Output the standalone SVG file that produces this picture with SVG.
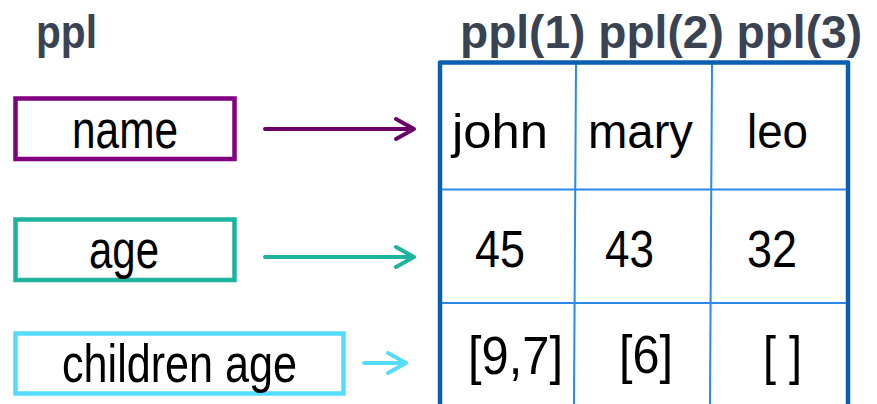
<svg xmlns="http://www.w3.org/2000/svg" width="877" height="404" viewBox="0 0 877 404">
  <style>
    .hdr { font-family: "Liberation Sans", Arial, sans-serif; font-weight: bold; fill: #3a4352; }
    .lbl { font-family: "Liberation Sans", Arial, sans-serif; fill: #000; }
    .cell { font-family: "Liberation Sans", Arial, sans-serif; fill: #000; }
    .box { fill: #fff; stroke-width: 4.5; }
    .grid { stroke: #2a8ae6; stroke-width: 2; fill: none; }
    .conn { fill: none; stroke-width: 4; stroke-linecap: round; stroke-linejoin: round; }
  </style>

  <rect width="877" height="404" fill="#fff"/>

  <!-- headings -->
  <text class="hdr" x="36" y="48" font-size="47" textLength="61" lengthAdjust="spacingAndGlyphs">ppl</text>
  <text class="hdr" x="460" y="48" font-size="47" textLength="402" lengthAdjust="spacingAndGlyphs">ppl(1) ppl(2) ppl(3)</text>

  <!-- field nodes -->
  <g id="node-name">
    <rect class="box" x="15.5" y="98.5" width="219" height="60.5" stroke="#800080"/>
    <text class="lbl" x="72" y="148" font-size="54" textLength="106" lengthAdjust="spacingAndGlyphs">name</text>
  </g>
  <g id="node-age">
    <rect class="box" x="15.5" y="219.5" width="219" height="60.5" stroke="#1db39e"/>
    <text class="lbl" x="89" y="268" font-size="54" textLength="70" lengthAdjust="spacingAndGlyphs">age</text>
  </g>
  <g id="node-children-age">
    <rect class="box" x="15.5" y="333.5" width="328" height="60" stroke="#55dcfc"/>
    <text class="lbl" x="62" y="382" font-size="54" textLength="235" lengthAdjust="spacingAndGlyphs">children age</text>
  </g>

  <!-- connectors -->
  <g id="connectors">
    <path class="conn" stroke="#6b0068" d="M265,129 H414 M396,119 L414,129 L396,139"/>
    <path class="conn" stroke="#1db39e" d="M265,257 H414 M396,247 L414,257 L396,267"/>
    <path class="conn" stroke="#55dcfc" d="M364,363 H406 M388,353 L406,363 L388,373"/>
  </g>

  <!-- struct array table -->
  <g id="node-table">
    <line class="grid" x1="576" y1="63" x2="574" y2="404"/>
    <line class="grid" x1="712" y1="63" x2="710" y2="404"/>
    <line class="grid" x1="440" y1="189.5" x2="848" y2="189.5"/>
    <line class="grid" x1="440" y1="303" x2="848" y2="303"/>
    <path d="M440,410 V62.5 H848 V410" fill="none" stroke="#0b5fb2" stroke-width="4.5" stroke-linejoin="round"/>

    <text class="cell" x="452" y="148" font-size="48" textLength="96" lengthAdjust="spacingAndGlyphs">john</text>
    <text class="cell" x="588" y="148" font-size="48" textLength="105" lengthAdjust="spacingAndGlyphs">mary</text>
    <text class="cell" x="747" y="148" font-size="48" textLength="61" lengthAdjust="spacingAndGlyphs">leo</text>

    <text class="cell" x="475" y="267" font-size="51" textLength="50" lengthAdjust="spacingAndGlyphs">45</text>
    <text class="cell" x="605" y="267" font-size="51" textLength="49" lengthAdjust="spacingAndGlyphs">43</text>
    <text class="cell" x="747" y="267" font-size="51" textLength="50" lengthAdjust="spacingAndGlyphs">32</text>

    <text class="cell" x="468" y="374" font-size="53" textLength="95" lengthAdjust="spacingAndGlyphs">[9,7]</text>
    <text class="cell" x="619" y="373" font-size="53" textLength="54" lengthAdjust="spacingAndGlyphs">[6]</text>
    <text class="cell" x="763" y="374" font-size="53" textLength="39" lengthAdjust="spacingAndGlyphs">[ ]</text>
  </g>
</svg>
